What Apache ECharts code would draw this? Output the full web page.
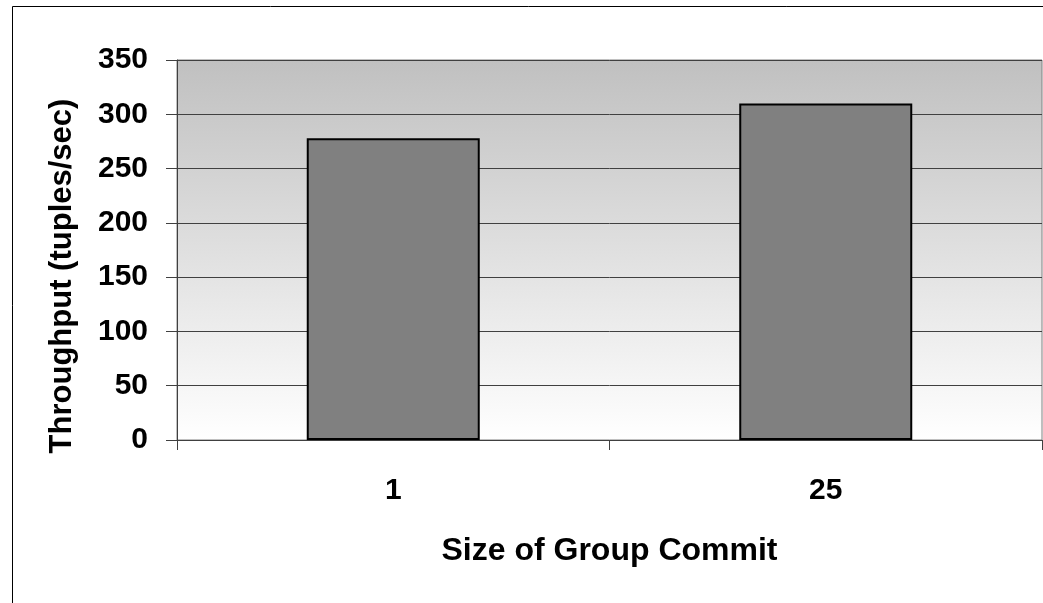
<!DOCTYPE html>
<html>
<head>
<meta charset="utf-8">
<script src="https://cdn.jsdelivr.net/npm/echarts@6/dist/echarts.min.js"></script>
<style>
html,body{margin:0;padding:0;background:#fff;}
#c{width:1043px;height:603px;}
</style>
</head>
<body>
<div id="c"></div>
<script>
const categories = ['1', '25'];
const throughput = [278, 310];
const yTicks = { min: 0, max: 350, interval: 50 };
const xTitle = 'Size of Group Commit';
const yTitle = 'Throughput (tuples/sec)';

const FONT = 'Liberation Sans, Arial, sans-serif';
const chart = echarts.init(document.getElementById('c'), null, { renderer: 'canvas' });
chart.setOption({
  animation: false,
  backgroundColor: '#fff',
  graphic: [{
    type: 'rect', z: 0,
    shape: { x: 12.5, y: 6.5, width: 1100, height: 700 },
    style: { fill: 'none', stroke: '#000', lineWidth: 1 }
  }, {
    type: 'text', z: 10,
    x: 62, y: 276, rotation: Math.PI / 2,
    style: {
      text: yTitle, fontFamily: FONT, fontWeight: 'bold', fontSize: 31, fill: '#000',
      align: 'center', verticalAlign: 'middle'
    }
  }],
  grid: {
    left: 177, top: 60, right: 1, bottom: 163,
    show: true,
    backgroundColor: {
      type: 'linear', x: 0, y: 0, x2: 0, y2: 1,
      colorStops: [{ offset: 0, color: '#c0c0c0' }, { offset: 1, color: '#ffffff' }]
    },
    borderColor: '#808080', borderWidth: 1
  },
  xAxis: {
    type: 'category',
    data: categories,
    name: xTitle,
    nameLocation: 'middle',
    nameGap: 95,
    nameTextStyle: { fontFamily: FONT, fontWeight: 'bold', fontSize: 32, color: '#000' },
    axisLine: { lineStyle: { color: '#404040', width: 1 } },
    axisTick: { show: true, length: 10, lineStyle: { color: '#404040' } },
    axisLabel: { margin: 36, fontFamily: FONT, fontWeight: 'bold', fontSize: 30, color: '#000' }
  },
  yAxis: {
    type: 'value',
    min: yTicks.min, max: yTicks.max, interval: yTicks.interval,
    axisLine: { show: true, lineStyle: { color: '#404040', width: 1 } },
    axisTick: { show: true, length: 11, lineStyle: { color: '#404040' } },
    axisLabel: { margin: 29, fontFamily: FONT, fontWeight: 'bold', fontSize: 30, color: '#000' },
    splitLine: { show: true, lineStyle: { color: '#404040', width: 1 } }
  },
  series: [{
    type: 'bar',
    data: throughput,
    barWidth: '40%',
    itemStyle: { color: '#808080', borderColor: '#000', borderWidth: 2 }
  }]
});
</script>
</body>
</html>
